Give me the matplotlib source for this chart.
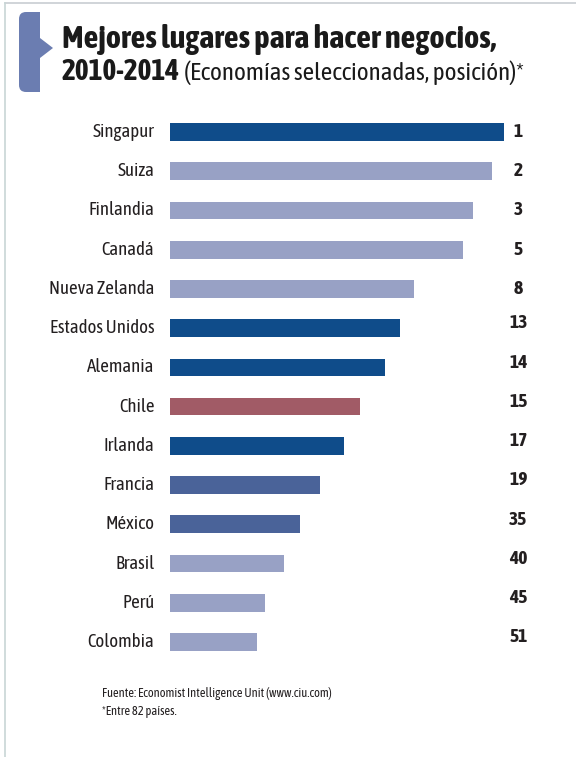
import matplotlib.pyplot as plt
from matplotlib.patches import PathPatch
from matplotlib.path import Path
from matplotlib.lines import Line2D

countries = ['Singapur', 'Suiza', 'Finlandia', 'Canadá', 'Nueva Zelanda', 'Estados Unidos',
             'Alemania', 'Chile', 'Irlanda', 'Francia', 'México', 'Brasil', 'Perú', 'Colombia']
scores = [334, 322, 303, 293, 244, 230, 215, 190, 174, 150, 130, 114, 95, 87]
ranks = [1, 2, 3, 5, 8, 13, 14, 15, 17, 19, 35, 40, 45, 51]
groups = ['dark', 'light', 'light', 'light', 'light', 'dark', 'dark', 'chile', 'dark',
          'mid', 'mid', 'light', 'light', 'light']

palette = {'dark': '#0f4c8a', 'light': '#98a1c5', 'chile': '#a15b66', 'mid': '#4a6399'}

plt.rcParams['font.family'] = ['Asap Condensed', 'DejaVu Sans']
plt.rcParams['font.stretch'] = 'condensed'

W, H = 576, 757
fig = plt.figure(figsize=(W / 100, H / 100), dpi=100)
fig.patch.set_facecolor('white')
renderer = fig.canvas.get_renderer()

def fx(px):
    return px / W

def fy(py):
    return 1 - py / H

def fit(txt, width_px):
    # scale font so the text spans about the reference width
    w = txt.get_window_extent(renderer).width
    txt.set_fontsize(txt.get_fontsize() * width_px / w)
    return txt

# frame lines
fig.add_artist(Line2D([fx(5), fx(576)], [fy(3), fy(3)], color='#c8cdd2', lw=1.2))
fig.add_artist(Line2D([fx(5), fx(5)], [fy(3), fy(757)], color='#c8d6d6', lw=1.2))

# bracket shape next to the title (rounded on the left, arrow notch on the right)
r = 7
verts = [(27, 12), (40, 12), (40, 38), (53, 48), (40, 58), (40, 92), (19 + r, 92),
         (19, 92), (19, 92 - r), (19, 12 + r), (19, 12), (19 + r, 12), (27, 12)]
codes = [Path.MOVETO, Path.LINETO, Path.LINETO, Path.LINETO, Path.LINETO, Path.LINETO,
         Path.LINETO, Path.CURVE3, Path.CURVE3, Path.LINETO, Path.CURVE3, Path.CURVE3,
         Path.CLOSEPOLY]
bracket = Path([(fx(x), fy(y)) for x, y in verts], codes)
fig.add_artist(PathPatch(bracket, transform=fig.transFigure, color='#6b7db1', lw=0))

t1 = fig.text(fx(62), fy(48), 'Mejores lugares para hacer negocios,', fontsize=22,
              fontweight='bold', color='#1a1a1a', ha='left', va='baseline')
fit(t1, 435)
t2 = fig.text(fx(62), fy(80), '2010-2014', fontsize=22, fontweight='bold',
              color='#1a1a1a', ha='left', va='baseline')
fit(t2, 118)
t3 = fig.text(fx(184), fy(80), '(Economías seleccionadas, posición)*', fontsize=19,
              color='#1a1a1a', ha='left', va='baseline')
fit(t3, 340)

# bars
top, bottom = 132 - 19.6, 642 + 19.6
ax = fig.add_axes([fx(170.3), fy(bottom), fx(576 - 170.3), (bottom - top) / H])
y = list(range(len(countries)))
ax.barh(y, scores, height=0.45, color=[palette[g] for g in groups], left=0)
ax.set_xlim(0, 576 - 170.3)
ax.set_ylim(len(countries) - 0.5, -0.5)
ax.axis('off')

for i, (c, rk) in enumerate(zip(countries, ranks)):
    ax.text(-16, i, c, ha='right', va='center', fontsize=13.5, color='#231f20')
    ax.text(348, i - (0.12 if i >= 5 else 0), str(rk), ha='center', va='center',
            fontsize=14, fontweight='bold', color='#231f20')

fig.text(fx(102), fy(694), 'Fuente: Economist Intelligence Unit (www.ciu.com)',
         fontsize=9, color='#231f20', ha='left', va='center')
fig.text(fx(102), fy(712), '*Entre 82 países.', fontsize=9, color='#231f20',
         ha='left', va='center')

fig.savefig('out.png', dpi=100)
